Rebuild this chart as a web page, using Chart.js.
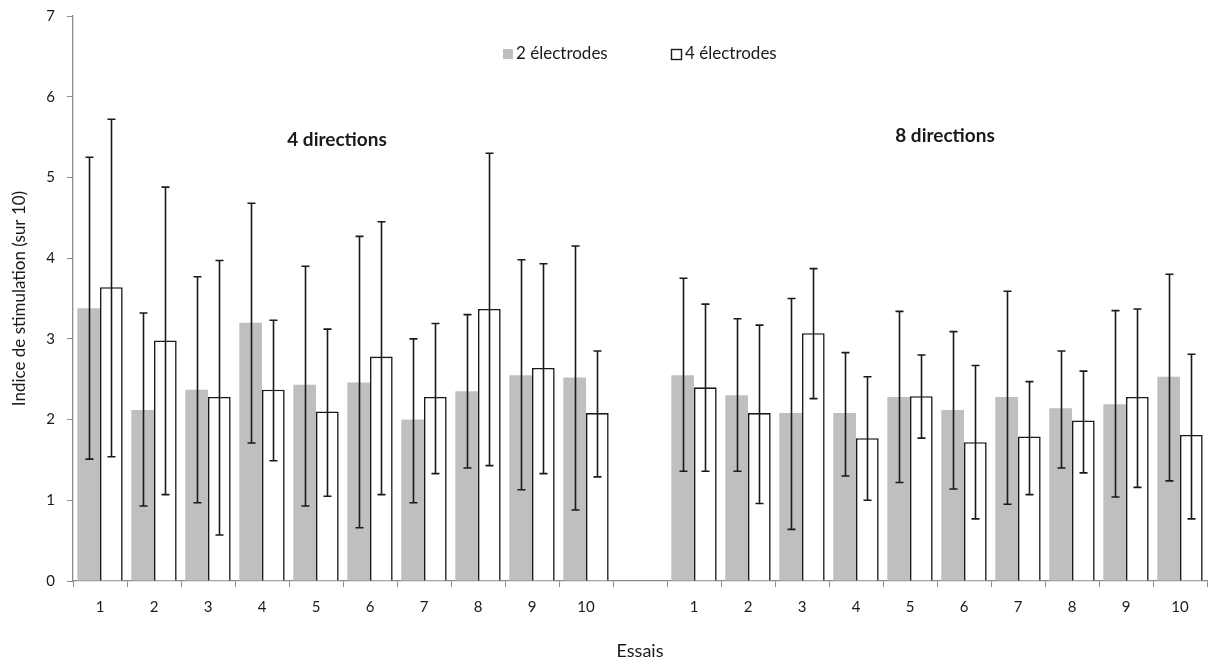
<!DOCTYPE html>
<html>
<head>
<meta charset="utf-8">
<script src="https://cdn.jsdelivr.net/npm/chart.js@4/dist/chart.umd.min.js"></script>
<style>
    html, body { margin: 0; padding: 0; background: #fff; }
    #wrap { width: 1210px; height: 662px; }
</style>
</head>
<body>
<div id="wrap"><canvas id="chart" width="1210" height="662"></canvas></div>
<script>
// Essais: 10 trials with 4 directions, an empty slot, then 10 trials with 8 directions
const categories = ['1', '2', '3', '4', '5', '6', '7', '8', '9', '10', '',
                    '1', '2', '3', '4', '5', '6', '7', '8', '9', '10'];

const twoElec = [3.38, 2.12, 2.37, 3.20, 2.43, 2.46, 2.00, 2.35, 2.55, 2.52, null,
                 2.55, 2.30, 2.08, 2.08, 2.28, 2.12, 2.28, 2.14, 2.19, 2.53];
const twoElecHigh = [5.25, 3.32, 3.77, 4.68, 3.90, 4.27, 3.00, 3.30, 3.98, 4.15, null,
                     3.75, 3.25, 3.50, 2.83, 3.34, 3.09, 3.59, 2.85, 3.35, 3.80];
const twoElecLow = [1.51, 0.93, 0.97, 1.71, 0.93, 0.66, 0.97, 1.40, 1.13, 0.88, null,
                    1.36, 1.36, 0.64, 1.30, 1.22, 1.14, 0.95, 1.40, 1.04, 1.24];

const fourElec = [3.64, 2.98, 2.28, 2.37, 2.10, 2.78, 2.28, 3.37, 2.64, 2.08, null,
                  2.40, 2.08, 3.07, 1.77, 2.29, 1.72, 1.79, 1.99, 2.28, 1.81];
const fourElecHigh = [5.72, 4.88, 3.97, 3.23, 3.12, 4.45, 3.19, 5.30, 3.93, 2.85, null,
                      3.43, 3.17, 3.87, 2.53, 2.80, 2.67, 2.47, 2.60, 3.37, 2.81];
const fourElecLow = [1.54, 1.07, 0.57, 1.49, 1.05, 1.07, 1.33, 1.43, 1.33, 1.29, null,
                     1.36, 0.96, 2.26, 1.00, 1.77, 0.77, 1.07, 1.34, 1.16, 0.77];

const seriesNames = ['2 électrodes', '4 électrodes'];
const groupLabels = ['4 directions', '8 directions'];
const yTicks = [0, 1, 2, 3, 4, 5, 6, 7];

const FONT = 'Lato, "Open Sans", sans-serif';
const AXIS_GREY = '#8c8c8c';
const BAR_GREY = '#bfbfbf';
const INK = '#1a1a1a';

const errorBars = [
    { high: twoElecHigh, low: twoElecLow },
    { high: fourElecHigh, low: fourElecLow },
];

// whiskers drawn from the bar elements and the y scale
const errorBarPlugin = {
    id: 'errorBars',
    afterDatasetsDraw(chart) {
        const ctx = chart.ctx;
        const y = chart.scales.y;
        ctx.save();
        ctx.strokeStyle = INK;
        ctx.lineWidth = 1.6;
        chart.data.datasets.forEach((ds, di) => {
            const meta = chart.getDatasetMeta(di);
            meta.data.forEach((bar, i) => {
                const hi = errorBars[di].high[i];
                const lo = errorBars[di].low[i];
                if (hi == null || lo == null) return;
                const x = Math.round(bar.x) + 0.5;
                const yHi = y.getPixelForValue(hi);
                const yLo = y.getPixelForValue(lo);
                ctx.beginPath();
                ctx.moveTo(x, yHi); ctx.lineTo(x, yLo);
                ctx.moveTo(x - 4, yHi); ctx.lineTo(x + 4, yHi);
                ctx.moveTo(x - 4, yLo); ctx.lineTo(x + 4, yLo);
                ctx.stroke();
            });
        });
        ctx.restore();
    },
};

// in-plot legend and the two group captions
const overlayPlugin = {
    id: 'overlay',
    afterDraw(chart) {
        const ctx = chart.ctx;
        const x = chart.scales.x;
        ctx.save();
        ctx.textBaseline = 'middle';
        ctx.textAlign = 'left';
        ctx.font = '17px ' + FONT;

        ctx.fillStyle = BAR_GREY;
        ctx.fillRect(503, 49, 10, 10);
        ctx.fillStyle = INK;
        ctx.fillText(seriesNames[0], 516, 54);

        ctx.strokeStyle = INK;
        ctx.lineWidth = 1.4;
        ctx.strokeRect(671.5, 49.5, 10, 10);
        ctx.fillText(seriesNames[1], 685, 54);

        ctx.font = 'bold 19px ' + FONT;
        ctx.textAlign = 'center';
        const mid1 = (x.getPixelForValue(4) + x.getPixelForValue(5)) / 2;
        const mid2 = (x.getPixelForValue(15) + x.getPixelForValue(16)) / 2;
        ctx.fillText(groupLabels[0], mid1 - 6, 140);
        ctx.fillText(groupLabels[1], mid2 + 8, 136);
        ctx.restore();
    },
};

new Chart(document.getElementById('chart'), {
    type: 'bar',
    data: {
        labels: categories,
        datasets: [
            {
                label: seriesNames[0], data: twoElec,
                backgroundColor: BAR_GREY, borderWidth: 0,
            },
            {
                label: seriesNames[1], data: fourElec,
                backgroundColor: '#ffffff', borderColor: INK, borderWidth: 1.6,
            },
        ],
    },
    options: {
        responsive: false, animation: false,
        layout: { padding: { top: 16, right: 3, left: 0, bottom: 0 } },
        datasets: { bar: { categoryPercentage: 0.84, barPercentage: 1.0 } },
        plugins: { legend: { display: false }, tooltip: { enabled: false } },
        scales: {
            x: {
                offset: true,
                grid: { display: true, drawOnChartArea: false, drawTicks: true, tickLength: 6, color: AXIS_GREY, offset: true },
                border: { color: AXIS_GREY, width: 1.3 },
                ticks: { color: INK, font: { family: FONT, size: 15 }, padding: 11, maxRotation: 0, autoSkip: false },
                title: { display: true, text: 'Essais', color: INK, font: { family: FONT, size: 18 }, padding: { top: 14, bottom: 0 } },
                afterFit(s) { s.height = 81; },
            },
            y: {
                min: 0, max: 7,
                afterBuildTicks(s) { s.ticks = yTicks.map(v => ({ value: v })); },
                grid: { display: true, drawOnChartArea: false, drawTicks: true, tickLength: 6, color: AXIS_GREY },
                border: { color: AXIS_GREY, width: 1.3 },
                ticks: { color: INK, font: { family: FONT, size: 15 }, padding: 12 },
                title: { display: true, text: 'Indice de stimulation (sur 10)', color: INK, font: { family: FONT, size: 17 }, padding: { top: 9, bottom: 0 } },
                afterFit(s) { s.width = 73; s.paddingTop = 0; s.paddingBottom = 0; },
            },
        },
    },
    plugins: [errorBarPlugin, overlayPlugin],
});
</script>
</body>
</html>
